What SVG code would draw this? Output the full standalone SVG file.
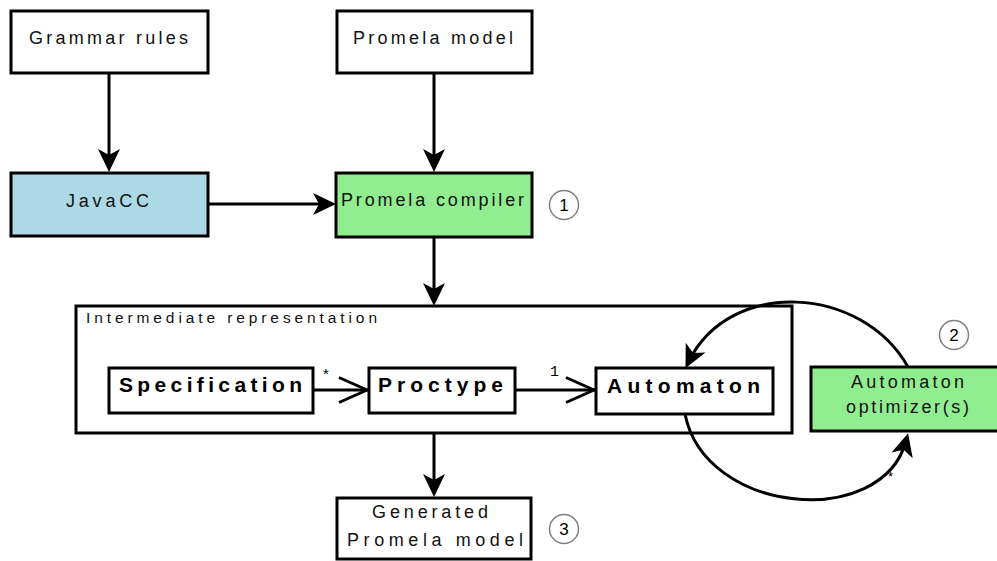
<svg xmlns="http://www.w3.org/2000/svg" width="997" height="561" viewBox="0 0 997 561">
<style>
.box{fill:#fff;stroke:#000;stroke-width:3}
.blue{fill:#ADD8E6}
.green{fill:#90EE90}
.t{font-family:"Liberation Sans",Arial,sans-serif;font-size:18px;fill:#111}
.b{font-family:"Liberation Sans",Arial,sans-serif;font-size:21px;font-weight:bold;fill:#000}
.ir{font-family:"Liberation Sans",Arial,sans-serif;font-size:15.5px;fill:#111}
.num{font-family:"Liberation Sans",Arial,sans-serif;font-size:17px;fill:#000;text-anchor:middle}
.mark{fill:#fff;stroke:#808080;stroke-width:1.5}
.edge{fill:none;stroke:#000;stroke-width:3}
.lbl{font-family:"Liberation Sans",Arial,sans-serif;font-size:15px;fill:#000}
.mono{font-family:"Liberation Mono","Courier New",monospace;font-size:15px;fill:#000}
</style>
<defs>
<marker id="arr" viewBox="-24 -12 26 24" refX="-8" refY="0" markerWidth="26" markerHeight="24" markerUnits="userSpaceOnUse" orient="auto">
<path d="M0,0 L-23,-11 L-17,0 L-23,11 Z" fill="#000"/>
</marker>
<marker id="open" viewBox="-32 -15 34 30" refX="0" refY="0" markerWidth="34" markerHeight="30" markerUnits="userSpaceOnUse" orient="auto">
<path d="M-29,-12.5 L-1,0 L-29,12.5" fill="none" stroke="#000" stroke-width="3"/>
</marker>
</defs>

<g id="ir">
<rect class="box" x="76" y="306" width="716" height="127"/>
<text class="ir" x="86" y="323" textLength="291" lengthAdjust="spacing">Intermediate representation</text>
</g>

<g id="connectors">
<path class="edge" d="M109,73 V164" marker-end="url(#arr)"/>
<path class="edge" d="M434,73 V164" marker-end="url(#arr)"/>
<path class="edge" d="M208,204 H328" marker-end="url(#arr)"/>
<path class="edge" d="M434,237 V298" marker-end="url(#arr)"/>
<path class="edge" d="M434,433 V489" marker-end="url(#arr)"/>
<path class="edge" d="M313,390 H368" marker-end="url(#open)"/>
<path class="edge" d="M515,390 H595" marker-end="url(#open)"/>
<path class="edge" d="M908,367 C862,285 730,278 689,361" marker-end="url(#arr)"/>
<path class="edge" d="M685,414 C705,515 882,530 906,441" marker-end="url(#arr)"/>
<text class="lbl" x="323" y="379">*</text>
<text class="mono" x="550" y="376">1</text>
<text class="lbl" x="888" y="481" style="font-size:13px">*</text>
</g>

<g id="grammar">
<rect class="box" x="11" y="11" width="197" height="62"/>
<text class="t" x="29" y="44" textLength="159" lengthAdjust="spacing">Grammar rules</text>
</g>

<g id="promela-model">
<rect class="box" x="337" y="11" width="195" height="62"/>
<text class="t" x="353" y="44" textLength="160" lengthAdjust="spacing">Promela model</text>
</g>

<g id="javacc">
<rect class="box blue" x="11" y="173" width="197" height="63"/>
<text class="t" x="66" y="207" textLength="83" lengthAdjust="spacing">JavaCC</text>
</g>

<g id="compiler">
<rect class="box green" x="336" y="173" width="196" height="64"/>
<text class="t" x="341" y="206" textLength="183" lengthAdjust="spacing">Promela compiler</text>
</g>

<g id="mark1">
<circle class="mark" cx="564" cy="205" r="14.5"/>
<text class="num" x="564" y="211">1</text>
</g>

<g id="specification">
<rect class="box" x="109" y="368" width="204" height="45"/>
<text class="b" x="119" y="392" textLength="183" lengthAdjust="spacing">Specification</text>
</g>

<g id="proctype">
<rect class="box" x="369" y="368" width="146" height="45"/>
<text class="b" x="378" y="392" textLength="125" lengthAdjust="spacing">Proctype</text>
</g>

<g id="automaton">
<rect class="box" x="596" y="368" width="177" height="46"/>
<text class="b" x="607" y="393" textLength="153" lengthAdjust="spacing">Automaton</text>
</g>

<g id="optimizer">
<rect class="box green" x="811" y="367" width="196" height="64"/>
<text class="t" x="851" y="388" textLength="113" lengthAdjust="spacing">Automaton</text>
<text class="t" x="846" y="413" textLength="123" lengthAdjust="spacing">optimizer(s)</text>
</g>

<g id="mark2">
<circle class="mark" cx="954" cy="335" r="14.5"/>
<text class="num" x="954" y="341">2</text>
</g>

<g id="generated">
<rect class="box" x="337" y="498" width="194" height="61"/>
<text class="t" x="372" y="518" textLength="116" lengthAdjust="spacing">Generated</text>
<text class="t" x="347" y="546" textLength="176" lengthAdjust="spacing">Promela model</text>
</g>

<g id="mark3">
<circle class="mark" cx="564" cy="529" r="14.5"/>
<text class="num" x="564" y="535">3</text>
</g>
</svg>
